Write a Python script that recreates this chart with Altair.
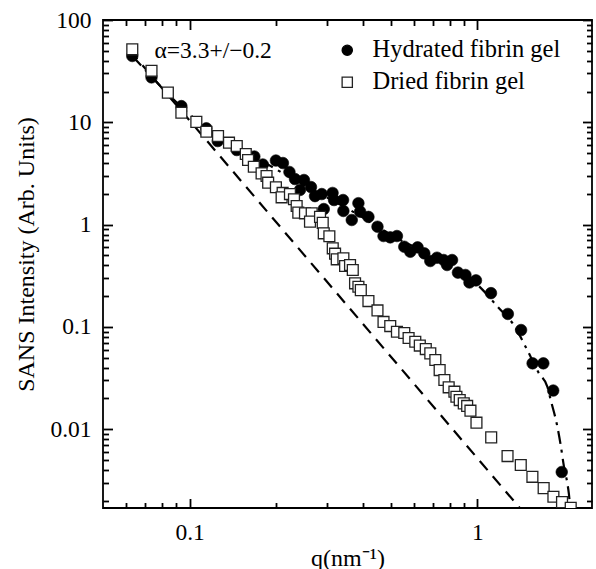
import altair as alt
import pandas as pd

# ---------------- data ----------------
hyd_q = [0.0632, 0.0737, 0.0936, 0.1143, 0.1252, 0.1458, 0.1678, 0.1796, 0.1994, 0.2109,
         0.2222, 0.2323, 0.2417, 0.2496, 0.2640, 0.2726, 0.2877, 0.2924, 0.3137, 0.3175,
         0.3413, 0.3421, 0.3658, 0.3858, 0.3911, 0.4180, 0.4494, 0.4716, 0.4977, 0.5251,
         0.5568, 0.5843, 0.6194, 0.6535, 0.6857, 0.7237, 0.7630, 0.7841, 0.8162, 0.8554,
         0.9084, 0.9380, 0.9881, 1.1143, 1.2752, 1.4176, 1.5543, 1.6938, 1.8330, 1.9623]
hyd_I = [44.5, 27.5, 14.4, 8.74, 6.56, 5.36, 4.63, 3.87, 4.23, 4.00,
         3.27, 2.79, 2.18, 2.73, 2.33, 1.90, 1.99, 1.42, 2.04, 1.74,
         1.74, 1.36, 1.11, 1.62, 1.34, 1.19, 0.954, 0.774, 0.751, 0.774,
         0.608, 0.543, 0.600, 0.524, 0.441, 0.475, 0.451, 0.403, 0.451, 0.340,
         0.322, 0.272, 0.285, 0.214, 0.134, 0.0933, 0.0441, 0.0441, 0.0239, 0.00382]

dry_q = [0.0632, 0.0737, 0.0840, 0.0936, 0.1055, 0.1143, 0.1255, 0.1370, 0.1458, 0.1567,
         0.1596, 0.1671, 0.1778, 0.1850, 0.1874, 0.1994, 0.2104, 0.2087, 0.2231, 0.2304,
         0.2354, 0.2385, 0.2516, 0.2655, 0.2619, 0.2838, 0.2900, 0.2924, 0.3058, 0.3142,
         0.3201, 0.3244, 0.3421, 0.3468, 0.3608, 0.3688, 0.3756, 0.3858, 0.3933, 0.4180,
         0.4494, 0.4716, 0.4977, 0.5251, 0.5568, 0.5764, 0.6081, 0.6305, 0.6614, 0.6857,
         0.7139, 0.7389, 0.7674, 0.7943, 0.8316, 0.8450, 0.8677, 0.8962, 0.9209, 0.9454,
         0.9920, 1.1161, 1.272, 1.414, 1.552, 1.698, 1.836, 1.967, 2.1086]
dry_I = [51.7, 31.9, 19.5, 12.4, 10.1, 8.09, 7.35, 6.32, 5.87, 4.90,
         4.28, 3.68, 3.17, 2.99, 2.57, 2.32, 2.04, 1.85, 1.99, 1.77,
         1.52, 1.31, 1.29, 1.29, 1.07, 1.19, 1.04, 0.822, 0.77, 0.587,
         0.52, 0.458, 0.468, 0.394, 0.403, 0.360, 0.267, 0.247, 0.229, 0.179,
         0.145, 0.112, 0.102, 0.0898, 0.0872, 0.078, 0.0717, 0.0658, 0.0608, 0.0552,
         0.0475, 0.0379, 0.0303, 0.0257, 0.0233, 0.0208, 0.0193, 0.0179, 0.0169, 0.0152,
         0.0116, 0.00833, 0.00547, 0.00447, 0.00343, 0.00266, 0.00219, 0.00194, 0.00171]

# power-law guide (alpha = 3.3), end points
fit_q = [0.0618, 1.406]
fit_I = [50.9, 0.00169]

# dash-dot model curve through the hydrated data
curve_q = [0.0632, 0.0938, 0.1272, 0.1754, 0.2417, 0.3608, 0.5392, 0.8052, 1.0385, 1.1742,
           1.338, 1.4898, 1.6352, 1.750, 1.797, 1.895, 1.946, 1.998, 2.053, 2.078, 2.1005]
curve_I = [44.5, 14.1, 6.87, 4.28, 2.55, 1.39, 0.707, 0.412, 0.233, 0.158,
           0.104, 0.0594, 0.0352, 0.0260, 0.0193, 0.0106, 0.0070, 0.0043, 0.00296, 0.00233, 0.0017]

series_names = ["Hydrated fibrin gel", "Dried fibrin gel"]

anno_q = [0.0755]
anno_I = [42.2]
anno_text = ["α=3.3+/−0.2"]

x_major = [0.1, 1]
x_minor = [0.06, 0.07, 0.08, 0.09, 0.2, 0.3, 0.4, 0.5, 0.6, 0.7, 0.8, 0.9]
y_major = [0.01, 0.1, 1, 10, 100]
y_minor = [0.002, 0.003, 0.004, 0.005, 0.006, 0.007, 0.008, 0.009,
           0.02, 0.03, 0.04, 0.05, 0.06, 0.07, 0.08, 0.09,
           0.2, 0.3, 0.4, 0.5, 0.6, 0.7, 0.8, 0.9,
           2, 3, 4, 5, 6, 7, 8, 9,
           20, 30, 40, 50, 60, 70, 80, 90]

# ---------------- tables ----------------
pts = pd.DataFrame({
    "q": hyd_q + dry_q,
    "I": hyd_I + dry_I,
    "series": [series_names[0]] * len(hyd_q) + [series_names[1]] * len(dry_q),
})
fit_df = pd.DataFrame({"q": fit_q, "I": fit_I})
curve_df = pd.DataFrame({"q": curve_q, "I": curve_I})
anno_df = pd.DataFrame({"q": anno_q, "I": anno_I, "t": anno_text})

W, H = 489, 488
FONT = "Times New Roman, Liberation Serif, Times, serif"

xs = alt.Scale(type="log", domain=[0.05, 2.5], nice=False)
ys = alt.Scale(type="log", domain=[0.0017, 100], nice=False)


def tick_axis(orient, offset, values, size):
    return alt.Axis(orient=orient, offset=offset, values=values, tickSize=size,
                    labels=False, domain=False, grid=False, title=None,
                    ticks=True, tickWidth=1.8, tickColor="black")


x_lab = alt.Axis(orient="bottom", values=x_major, format="~g", ticks=False, domain=False,
                 grid=False, labelPadding=12, labelFont=FONT, labelFontSize=23.5,
                 labelColor="black", title="q(nm⁻¹)", titleFont=FONT, titleFontSize=24,
                 titleFontWeight="normal", titleColor="black", titleY=57,
                 titleBaseline="alphabetic")
y_lab = alt.Axis(orient="left", values=y_major, format="~g", ticks=False, domain=False,
                 grid=False, labelPadding=12, labelFont=FONT, labelFontSize=23.5,
                 labelColor="black", title="SANS Intensity (Arb. Units)", titleFont=FONT,
                 titleFontSize=24, titleFontWeight="normal", titleColor="black",
                 titleAngle=270, titleX=-70, titleY=234, titleAlign="center",
                 titleBaseline="alphabetic")

legend = alt.Legend(orient="none", legendX=232, legendY=18, title=None,
                    labelFont=FONT, labelFontSize=24.5, labelColor="black", labelLimit=400,
                    labelOffset=13, rowPadding=7, padding=0, symbolSize=105,
                    symbolStrokeWidth=1.3)

dashed = alt.Chart(fit_df).mark_line(
    color="black", strokeWidth=2.2, strokeDash=[12, 8], clip=True
).encode(
    x=alt.X("q:Q", scale=xs, axis=x_lab),
    y=alt.Y("I:Q", scale=ys, axis=y_lab),
)

dashdot = alt.Chart(curve_df).mark_line(
    color="black", strokeWidth=2.2, strokeDash=[13, 6, 3, 6], interpolate="monotone", clip=True
).encode(
    x=alt.X("q:Q", scale=xs, axis=tick_axis("top", -H, x_major, 9.5)),
    y=alt.Y("I:Q", scale=ys, axis=tick_axis("right", -W, y_major, 9.5)),
)

shape_enc = alt.Shape("series:N", scale=alt.Scale(domain=series_names, range=["circle", "square"]),
                      legend=legend)
fill_enc = alt.Fill("series:N", scale=alt.Scale(domain=series_names, range=["black", "white"]),
                    legend=legend)
stroke_enc = alt.Stroke("series:N", scale=alt.Scale(domain=series_names, range=["black", "#222222"]),
                        legend=legend)

hyd = alt.Chart(pts).transform_filter(
    alt.datum.series == series_names[0]
).mark_point(filled=True, size=135, opacity=1, strokeWidth=0.6, clip=True).encode(
    x=alt.X("q:Q", scale=xs, axis=tick_axis("top", -H, x_minor, 5.5)),
    y=alt.Y("I:Q", scale=ys, axis=tick_axis("right", -W, y_minor, 5.5)),
    shape=shape_enc,
    fill=fill_enc,
    stroke=stroke_enc,
)

dry = alt.Chart(pts).transform_filter(
    alt.datum.series == series_names[1]
).mark_point(filled=True, size=118, opacity=1, strokeWidth=1.3, clip=True).encode(
    x=alt.X("q:Q", scale=xs, axis=tick_axis("bottom", -H, x_major, 9.5)),
    y=alt.Y("I:Q", scale=ys, axis=tick_axis("left", -W, y_major, 9.5)),
    shape=shape_enc,
    fill=fill_enc,
    stroke=stroke_enc,
)

anno = alt.Chart(anno_df).mark_text(
    align="left", baseline="alphabetic", font=FONT, fontSize=23.5, color="black"
).encode(
    x=alt.X("q:Q", scale=xs, axis=tick_axis("bottom", -H, x_minor, 5.5)),
    y=alt.Y("I:Q", scale=ys, axis=tick_axis("left", -W, y_minor, 5.5)),
    text="t:N",
)

chart = alt.layer(dashed, dashdot, hyd, dry, anno).resolve_axis(
    x="independent", y="independent"
).properties(
    width=W, height=H,
    autosize=alt.AutoSizeParams(type="none"),
    padding={"left": 103, "top": 20, "right": 4, "bottom": 61},
    background="white",
).configure_view(
    stroke="black", strokeWidth=1.8
)

chart.save("out.html", embed_options={"renderer": "svg", "actions": False})
